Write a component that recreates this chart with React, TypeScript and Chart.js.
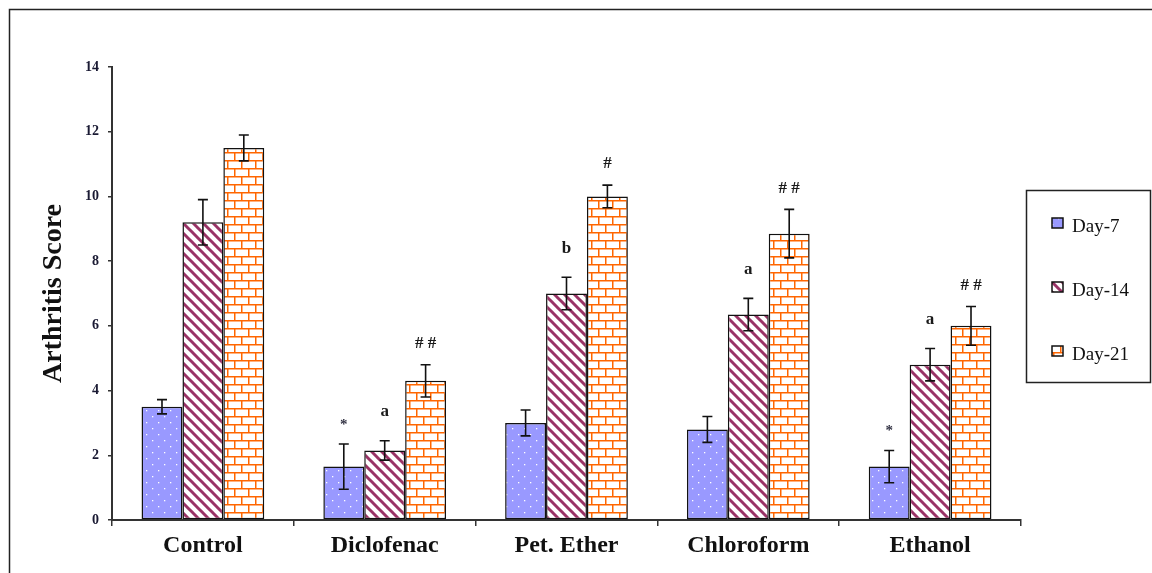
import React, { useEffect, useRef } from "react";
import { Chart, registerables } from "chart.js";

Chart.register(...registerables);

const categories = ["Control", "Diclofenac", "Pet. Ether", "Chloroform", "Ethanol"];
const seriesNames = ["Day-7", "Day-14", "Day-21"];
const day7 = [3.5, 1.65, 3.0, 2.8, 1.65];
const day14 = [9.2, 2.15, 7.0, 6.35, 4.8];
const day21 = [11.5, 4.3, 10.0, 8.85, 6.0];
const day7Err = [0.22, 0.7, 0.4, 0.4, 0.5];
const day14Err = [0.7, 0.3, 0.5, 0.5, 0.5];
const day21Err = [0.4, 0.5, 0.35, 0.75, 0.6];
const day7Marks = ["", "*", "", "", "*"];
const day14Marks = ["", "a", "b", "a", "a"];
const day21Marks = ["", "# #", "#", "# #", "# #"];
const yMin = 0;
const yMax = 14;
const yStep = 2;
const yTitle = "Arthritis Score";

const FONT = "'Liberation Serif', 'Times New Roman', serif";

function makePattern(kind: string): CanvasPattern | string {
  const c = document.createElement("canvas");
  const g = c.getContext("2d");
  if (!g) return "#ccc";
  if (kind === "dots") {
    c.width = 12;
    c.height = 12;
    g.fillStyle = "#9999FF";
    g.fillRect(0, 0, 12, 12);
    g.fillStyle = "#ffffff";
    g.fillRect(2, 2, 1.3, 1.3);
    g.fillRect(8, 8, 1.3, 1.3);
  } else if (kind === "stripes") {
    c.width = 10;
    c.height = 10;
    g.fillStyle = "#ffffff";
    g.fillRect(0, 0, 10, 10);
    g.strokeStyle = "#993366";
    g.lineWidth = 3;
    for (const off of [-10, 0, 10]) {
      g.beginPath();
      g.moveTo(off - 5, -5);
      g.lineTo(off + 15, 15);
      g.stroke();
    }
  } else {
    c.width = 14;
    c.height = 16;
    g.fillStyle = "#ffffff";
    g.fillRect(0, 0, 14, 16);
    g.strokeStyle = "#FF6600";
    g.lineWidth = 1.5;
    g.beginPath();
    g.moveTo(0, 0.75);
    g.lineTo(14, 0.75);
    g.moveTo(0, 8.75);
    g.lineTo(14, 8.75);
    g.moveTo(3.75, 0.75);
    g.lineTo(3.75, 8.75);
    g.moveTo(10.75, 8.75);
    g.lineTo(10.75, 16);
    g.stroke();
  }
  return g.createPattern(c, "repeat") || "#ccc";
}

export default function App() {
  const ref = useRef<HTMLCanvasElement | null>(null);

  useEffect(() => {
    const canvas = ref.current;
    if (!canvas) return;
    const fills = [makePattern("dots"), makePattern("stripes"), makePattern("bricks")];
    const values = [day7, day14, day21];
    const errs = [day7Err, day14Err, day21Err];
    const marks = [day7Marks, day14Marks, day21Marks];
    const markOffsets = [19, 29, 21];

    const extras = {
      id: "extras",
      afterDatasetsDraw(chart: any) {
        const ctx = chart.ctx;
        const y = chart.scales.y;
        ctx.save();
        ctx.strokeStyle = "#111";
        ctx.lineWidth = 1.6;
        values.forEach((vals, di) => {
          const meta = chart.getDatasetMeta(di);
          vals.forEach((v, i) => {
            const bar = meta.data[i];
            const x = bar.x;
            const top = y.getPixelForValue(v + errs[di][i]);
            const bot = y.getPixelForValue(v - errs[di][i]);
            ctx.beginPath();
            ctx.moveTo(x, top);
            ctx.lineTo(x, bot);
            ctx.moveTo(x - 5, top);
            ctx.lineTo(x + 5, top);
            ctx.moveTo(x - 5, bot);
            ctx.lineTo(x + 5, bot);
            ctx.stroke();
            const m = marks[di][i];
            if (m) {
              ctx.fillStyle = m === "*" ? "#333344" : "#1a1a1a";
              ctx.font = m === "*" ? `bold 15px ${FONT}` : `bold 17px ${FONT}`;
              ctx.textAlign = "center";
              ctx.textBaseline = "middle";
              ctx.fillText(m, x, top - markOffsets[di]);
            }
          });
        });
        ctx.restore();
      },
      afterDraw(chart: any) {
        const ctx = chart.ctx;
        ctx.save();
        // outer frame
        ctx.strokeStyle = "#222";
        ctx.lineWidth = 1.5;
        ctx.strokeRect(9.5, 9.5, 1300, 1300);
        // legend box
        ctx.lineWidth = 1.5;
        ctx.strokeRect(1026.5, 190.5, 124, 192);
        const ys = [226, 290, 354];
        seriesNames.forEach((name, i) => {
          const cy = ys[i];
          ctx.fillStyle = fills[i] as any;
          ctx.fillRect(1052, cy - 8, 11, 10);
          ctx.strokeStyle = "#111";
          ctx.lineWidth = 1.5;
          ctx.strokeRect(1052, cy - 8, 11, 10);
          ctx.fillStyle = "#111";
          ctx.font = `19px ${FONT}`;
          ctx.textAlign = "left";
          ctx.textBaseline = "middle";
          ctx.fillText(name, 1072, cy + 1);
        });
        ctx.restore();
      },
    };

    const chart = new Chart(canvas, {
      type: "bar",
      data: {
        labels: categories,
        datasets: seriesNames.map((name, i) => ({
          label: name,
          data: values[i],
          backgroundColor: fills[i] as any,
          borderColor: "#111",
          borderWidth: 1.5,
          borderSkipped: false,
          categoryPercentage: 0.675,
          barPercentage: 1,
        })),
      },
      options: {
        animation: false,
        responsive: false,
        layout: { padding: { left: 0, top: 67, right: 131, bottom: 0 } },
        plugins: {
          legend: { display: false },
          tooltip: { enabled: false },
        },
        scales: {
          x: {
            grid: {
              drawOnChartArea: false,
              drawTicks: true,
              tickLength: 6,
              color: "#333",
              lineWidth: 1.5,
              offset: true,
            },
            border: { color: "#333", width: 2 },
            ticks: {
              color: "#111",
              padding: 5,
              font: { family: FONT, size: 24, weight: "bold" },
            },
            afterFit: (s: any) => {
              s.height = 53;
            },
          },
          y: {
            min: yMin,
            max: yMax,
            grid: {
              drawOnChartArea: false,
              drawTicks: true,
              tickLength: 4,
              color: "#333",
              lineWidth: 1.5,
            },
            border: { color: "#333", width: 2 },
            ticks: {
              stepSize: yStep,
              color: "#1a1a33",
              padding: 9,
              font: { family: FONT, size: 14, weight: "bold" },
            },
            title: {
              display: true,
              text: yTitle,
              color: "#111",
              font: { family: FONT, size: 28, weight: "bold" },
              padding: { top: 37, bottom: 0 },
            },
            afterFit: (s: any) => {
              s.width = 112;
            },
          },
        },
      },
      plugins: [extras],
    });
    return () => chart.destroy();
  }, []);

  return (
    <div style={{ position: "fixed", left: 0, top: 0, width: 1152, height: 573, background: "#fff" }}>
      <canvas ref={ref} width={1152} height={573} style={{ width: 1152, height: 573, display: "block" }} />
    </div>
  );
}
